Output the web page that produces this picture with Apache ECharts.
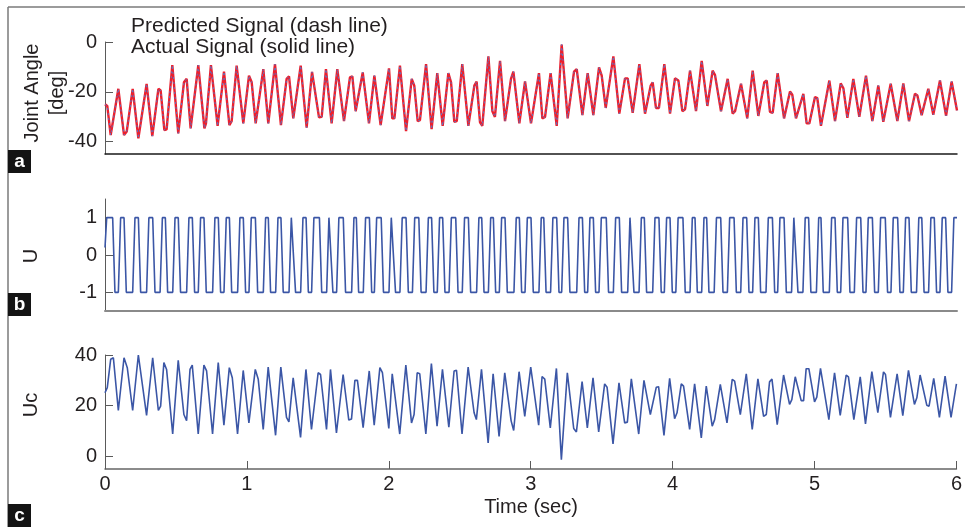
<!DOCTYPE html>
<html><head><meta charset="utf-8">
<script src="https://cdn.jsdelivr.net/npm/echarts@6.0.0/dist/echarts.min.js"></script>
<style>html,body{margin:0;padding:0;background:#fff}#chart{width:965px;height:527px}</style>
</head><body><div id="chart"></div>
<script>
// ---------- Panel a: joint angle [deg] vs time [s] ----------
const timeA = [0.000,0.016,0.040,0.054,0.094,0.134,0.153,0.195,0.235,0.293,
0.333,0.376,0.392,0.418,0.434,0.474,0.516,0.556,0.575,0.603,
0.657,0.700,0.711,0.746,0.793,0.838,0.876,0.892,0.927,0.974,
1.014,1.033,1.061,1.115,1.150,1.197,1.239,1.279,1.296,1.326,
1.378,1.420,1.458,1.507,1.526,1.556,1.596,1.636,1.683,1.725,
1.742,1.765,1.779,1.815,1.859,1.897,1.941,2.000,2.023,2.038,
2.077,2.120,2.160,2.178,2.202,2.218,2.261,2.300,2.340,2.378,
2.418,2.437,2.460,2.477,2.516,2.559,2.601,2.617,2.641,2.657,
2.700,2.728,2.746,2.782,2.817,2.859,2.876,2.918,2.958,3.000,
3.056,3.080,3.099,3.138,3.181,3.216,3.258,3.303,3.322,3.362,
3.399,3.439,3.479,3.498,3.526,3.540,3.580,3.622,3.662,3.681,
3.716,3.763,3.803,3.843,3.857,3.880,3.901,3.939,3.979,4.014,
4.038,4.066,4.085,4.120,4.162,4.202,4.242,4.279,4.296,4.338,
4.385,4.420,4.437,4.479,4.523,4.561,4.601,4.643,4.660,4.683,
4.702,4.737,4.782,4.824,4.840,4.866,4.918,4.941,4.960,5.000,
5.016,5.042,5.101,5.141,5.181,5.200,5.228,5.270,5.312,5.359,
5.404,5.446,5.481,5.533,5.580,5.622,5.662,5.704,5.721,5.751,
5.798,5.833,5.880,5.923,5.962,6.000];
const actualAngle = [-25.0,-25.7,-37.4,-37.8,-18.8,-37.4,-36.0,-18.8,-38.7,-16.8,
-37.8,-18.8,-19.5,-35.4,-35.1,-9.3,-36.7,-16.2,-14.8,-34.7,
-9.3,-34.7,-32.7,-9.3,-33.7,-11.9,-33.4,-31.8,-9.5,-32.7,
-13.5,-16.2,-32.7,-10.9,-32.7,-8.9,-33.4,-14.8,-13.8,-30.7,
-9.5,-34.4,-12.0,-30.3,-30.1,-10.9,-32.7,-10.9,-31.8,-14.2,
-13.8,-27.8,-27.8,-12.2,-32.7,-13.5,-33.4,-10.6,-30.7,-30.7,
-9.5,-35.8,-14.8,-17.5,-31.8,-31.4,-8.9,-35.0,-12.5,-33.7,
-12.5,-16.2,-32.1,-31.8,-8.9,-33.7,-17.5,-15.9,-32.3,-33.7,
-5.8,-27.8,-30.1,-7.6,-31.8,-14.8,-11.9,-32.7,-15.8,-32.7,
-12.5,-30.7,-30.1,-12.5,-33.7,-1.0,-30.7,-11.9,-10.9,-29.4,
-12.5,-29.4,-10.2,-13.5,-26.5,-26.1,-5.8,-28.8,-14.6,-14.6,
-28.5,-8.9,-28.8,-17.5,-16.2,-26.5,-26.5,-8.9,-28.8,-14.6,
-15.5,-27.8,-27.0,-11.5,-27.8,-7.6,-25.7,-11.5,-13.3,-27.8,
-14.8,-28.8,-27.8,-16.8,-30.7,-11.5,-29.7,-16.2,-15.5,-28.1,
-28.5,-12.5,-30.7,-19.9,-21.2,-30.7,-20.8,-32.7,-32.7,-22.1,
-22.5,-33.7,-15.5,-31.8,-16.6,-18.6,-30.5,-14.8,-30.1,-13.5,
-31.8,-17.5,-32.1,-16.8,-31.8,-16.6,-31.8,-20.8,-21.5,-29.4,
-18.8,-29.2,-15.5,-29.7,-15.9,-27.5];
// predicted signal overlaps the actual one within the line width in the picture
const predictedAngle = actualAngle.slice();

// ---------- Panel b: U (switching times) ----------
const uStartTime = [0, 0.012];
const uStartValue = [0.2, 1];
const uFallTimes = [0.054,0.134,0.235,0.336,0.425,0.516,0.615,0.697,0.798,0.876,
0.974,1.059,1.150,1.239,1.326,1.416,1.510,1.589,1.678,1.770,
1.862,1.945,2.030,2.120,2.210,2.300,2.378,2.470,2.559,2.653,
2.735,2.817,2.918,3.000,3.090,3.181,3.258,3.362,3.439,3.530,
3.622,3.709,3.798,3.901,3.979,4.070,4.155,4.237,4.336,4.430,
4.519,4.601,4.700,4.782,4.864,4.955,5.042,5.141,5.230,5.322,
5.404,5.495,5.582,5.662,5.752,5.840,5.920];
const uRiseTimes = [0.094,0.195,0.293,0.388,0.477,0.575,0.657,0.758,0.838,0.934,
1.014,1.115,1.202,1.296,1.378,1.455,1.561,1.631,1.737,1.819,
1.897,2.000,2.077,2.165,2.261,2.340,2.423,2.516,2.617,2.700,
2.777,2.880,2.958,3.056,3.138,3.216,3.322,3.399,3.479,3.580,
3.681,3.761,3.857,3.939,4.020,4.120,4.202,4.290,4.383,4.477,
4.561,4.655,4.737,4.835,4.915,5.010,5.101,5.181,5.277,5.359,
5.446,5.535,5.622,5.715,5.800,5.880,5.962];
const uHigh = 1, uLow = -1, uRampTime = 0.016, uEndTime = 6.0;

// ---------- Panel c: Uc ----------
const timeC = [0.000,0.016,0.040,0.059,0.094,0.134,0.157,0.195,0.235,0.293,
0.336,0.376,0.392,0.415,0.434,0.477,0.516,0.556,0.575,0.599,
0.615,0.657,0.697,0.716,0.758,0.798,0.838,0.876,0.897,0.934,
0.974,1.014,1.059,1.080,1.115,1.150,1.202,1.239,1.279,1.296,
1.326,1.378,1.416,1.455,1.502,1.519,1.561,1.589,1.631,1.678,
1.718,1.737,1.761,1.779,1.819,1.862,1.897,1.937,1.955,2.000,
2.024,2.038,2.077,2.120,2.160,2.178,2.200,2.218,2.261,2.300,
2.340,2.378,2.423,2.460,2.477,2.516,2.559,2.601,2.617,2.653,
2.700,2.735,2.777,2.817,2.862,2.880,2.918,2.958,3.000,3.056,
3.080,3.099,3.138,3.181,3.216,3.258,3.303,3.322,3.362,3.399,
3.439,3.479,3.521,3.538,3.580,3.622,3.662,3.681,3.709,3.761,
3.798,3.843,3.857,3.885,3.901,3.939,3.979,4.014,4.031,4.061,
4.077,4.120,4.155,4.202,4.237,4.279,4.296,4.336,4.383,4.420,
4.437,4.477,4.519,4.561,4.601,4.641,4.660,4.683,4.700,4.737,
4.782,4.824,4.840,4.864,4.906,4.923,4.941,4.960,5.000,5.016,
5.042,5.101,5.141,5.181,5.223,5.239,5.277,5.322,5.359,5.404,
5.446,5.486,5.500,5.535,5.582,5.622,5.662,5.704,5.721,5.744,
5.758,5.791,5.807,5.840,5.880,5.920,5.962,6.000];
const uc = [25.1,27.1,38.3,38.9,18.1,38.9,35.0,18.1,40.0,16.2,
38.9,18.1,19.8,37.0,34.3,8.8,37.9,16.5,14.1,34.3,
36.0,8.8,36.0,33.7,8.8,37.0,12.3,35.0,31.0,8.8,
33.9,13.2,34.3,30.4,10.6,35.2,8.3,35.2,15.4,13.6,
31.0,7.5,34.3,10.6,33.0,32.3,10.6,34.3,9.2,32.3,
14.3,14.7,30.0,30.0,11.3,33.7,12.3,35.0,33.0,11.0,
32.6,32.3,8.8,36.0,13.2,16.5,33.0,32.6,8.8,36.6,
11.9,34.3,11.5,33.7,34.0,8.8,35.2,17.2,14.5,34.3,
5.3,32.6,7.9,33.0,14.0,10.2,33.4,15.8,35.2,12.3,
31.5,30.5,11.2,34.7,-1.3,33.0,11.0,9.6,29.5,11.2,
31.0,9.6,28.6,27.3,4.9,29.0,13.2,13.5,30.6,8.8,
30.0,16.5,16.2,27.3,27.5,8.3,30.8,14.9,17.2,28.6,
27.7,10.6,28.6,7.3,27.7,11.9,14.5,28.4,13.2,30.4,
29.7,16.5,32.6,10.6,30.6,15.8,16.5,29.4,30.5,12.5,
32.1,20.5,22.4,31.4,22.0,22.0,34.6,34.6,21.5,23.4,
34.7,14.5,33.0,16.2,32.1,31.4,14.5,31.4,12.8,33.4,
17.2,33.3,32.3,15.4,32.6,16.1,33.9,20.5,23.1,32.1,
31.4,20.2,19.8,30.8,15.4,31.7,15.4,28.6];

// ---------- Axis ticks ----------
const timeTicks = [0,1,2,3,4,5,6];
const angleTicks = [-40,-20,0];
const uTicks = [-1,0,1];
const ucTicks = [0,20,40];

// ---------- build library data ----------
function pairs(t, v){ const n=Math.min(t.length,v.length), out=[]; for(let i=0;i<n;i++) out.push([t[i],v[i]]); return out; }
function buildU(){
  const ev = [];
  uFallTimes.forEach(t=>ev.push([t,uLow]));
  uRiseTimes.forEach(t=>ev.push([t,uHigh]));
  ev.sort((a,b)=>a[0]-b[0]);
  const pts = pairs(uStartTime, uStartValue);
  let level = uStartValue[uStartValue.length-1];
  ev.forEach(([t,L])=>{ pts.push([t,level]); pts.push([t+uRampTime,L]); level=L; });
  pts.push([uEndTime, level]);
  return pts;
}

const FONT = '"Liberation Sans", Arial, Helvetica, sans-serif';
const TXT = '#231f20';
const BLUE = '#3b56a6';
const RED = '#ec1f2d';

function yAxisCfg(grid, min, max, ticks){
  return {gridIndex:grid, type:'value', min:min, max:max,
    axisLine:{show:true,onZero:false,lineStyle:{color:'#5a5a5a',width:1}},
    axisTick:{show:true,inside:true,length:8,customValues:ticks,lineStyle:{color:'#5a5a5a',width:1}},
    axisLabel:{show:true,customValues:ticks,margin:8,fontSize:20,fontFamily:FONT,color:TXT},
    splitLine:{show:false}};
}
function xAxisCfg(grid, color, width, labels){
  return {gridIndex:grid, type:'value', min:0, max:6, interval:1,
    axisLine:{show:true,onZero:false,lineStyle:{color:color,width:width}},
    axisTick:{show:labels,inside:true,length:8,customValues:timeTicks,lineStyle:{color:'#5a5a5a',width:1}},
    axisLabel:{show:labels,customValues:timeTicks,margin:5,fontSize:20,fontFamily:FONT,color:TXT},
    splitLine:{show:false}};
}
function txt(x,y,text,opt){
  opt = opt||{};
  return {type:'text', x:x, y:y, rotation:opt.rot||0, z:10,
    style:{text:text, fill:opt.fill||TXT, font:(opt.weight||'normal')+' '+(opt.size||20)+'px '+FONT,
      align:opt.align||'center', verticalAlign:'middle'}};
}
function box(y, letter){
  return [
    {type:'rect', shape:{x:8,y:y,width:23,height:23}, style:{fill:'#141414'}, z:9},
    txt(19.5, y+11.5, letter, {fill:'#ffffff', weight:'bold', size:19})
  ];
}

const chart = echarts.init(document.getElementById('chart'), null, {renderer:'canvas'});
chart.setOption({
  animation:false,
  backgroundColor:'#ffffff',
  grid:[
    {left:105,right:8,top:42,height:112},
    {left:105,right:8,top:199,height:112},
    {left:105,right:8,top:355,height:114}
  ],
  xAxis:[ xAxisCfg(0,'#1a1a1a',1.5,false), xAxisCfg(1,'#8a8a8a',2,false), xAxisCfg(2,'#666666',1.5,true) ],
  yAxis:[ yAxisCfg(0,-45,0,angleTicks), yAxisCfg(1,-1.5,1.5,uTicks), yAxisCfg(2,-5,40,ucTicks) ],
  series:[
    {name:'Actual Signal', type:'line', xAxisIndex:0, yAxisIndex:0, data:pairs(timeA,actualAngle),
      symbol:'none', lineStyle:{color:RED,width:2.4}, z:2},
    {name:'Predicted Signal', type:'line', xAxisIndex:0, yAxisIndex:0, data:pairs(timeA,predictedAngle),
      symbol:'none', lineStyle:{color:'#5877c6',width:1,type:[2,3]}, z:3},
    {name:'U', type:'line', xAxisIndex:1, yAxisIndex:1, data:buildU(),
      symbol:'none', lineStyle:{color:BLUE,width:1.6}},
    {name:'Uc', type:'line', xAxisIndex:2, yAxisIndex:2, data:pairs(timeC,uc),
      symbol:'none', lineStyle:{color:BLUE,width:1.6}}
  ],
  graphic:[
    {type:'line', shape:{x1:8,y1:7,x2:965,y2:7}, style:{stroke:'#7a7a7a',lineWidth:1.5}},
    {type:'line', shape:{x1:8,y1:7,x2:8,y2:527}, style:{stroke:'#7a7a7a',lineWidth:1.5}},
    txt(131, 26, 'Predicted Signal (dash line)', {align:'left', size:21}),
    txt(131, 47, 'Actual Signal (solid line)', {align:'left', size:21}),
    txt(32, 93, 'Joint Angle', {rot:Math.PI/2}),
    txt(57, 93, '[deg]', {rot:Math.PI/2}),
    txt(31, 256, 'U', {rot:Math.PI/2}),
    txt(31, 405, 'Uc', {rot:Math.PI/2}),
    txt(531, 507, 'Time (sec)', {}),
    ...box(150,'a'), ...box(293,'b'), ...box(504,'c')
  ]
});
</script></body></html>
